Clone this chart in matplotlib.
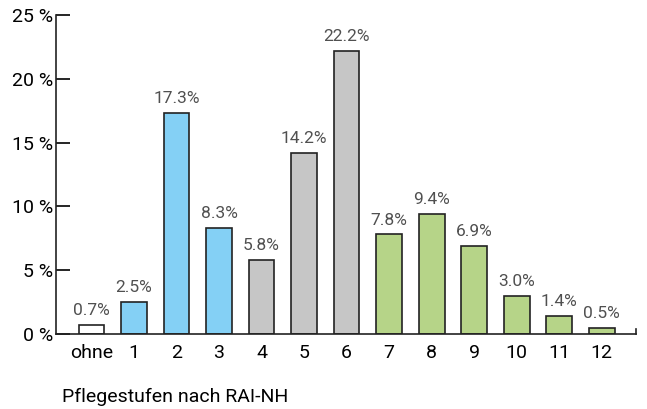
import matplotlib
matplotlib.use("Agg")
import matplotlib.pyplot as plt

# data
categories = ["ohne", "1", "2", "3", "4", "5", "6", "7", "8", "9", "10", "11", "12"]
values = [0.7, 2.5, 17.3, 8.3, 5.8, 14.2, 22.2, 7.8, 9.4, 6.9, 3.0, 1.4, 0.5]
groups = ["none", "blue", "blue", "blue", "gray", "gray", "gray",
          "green", "green", "green", "green", "green", "green"]
yticks = [0, 5, 10, 15, 20, 25]

colors = {"none": "white", "blue": "#84d0f5", "gray": "#c6c6c6", "green": "#b6d488"}

plt.rcParams["font.family"] = ["Roboto", "DejaVu Sans"]

fig = plt.figure(figsize=(6.47, 4.09), dpi=100)
ax = fig.add_axes([56 / 647, 75 / 409, 580 / 647, 319 / 409])

x = list(range(len(categories)))
bars = ax.bar(x, values, width=0.61, color=[colors[g] for g in groups],
              edgecolor="#222222", linewidth=1.2, zorder=2)

for xi, v in zip(x, values):
    ax.annotate(f"{v:.1f}%", (xi, v), xytext=(0, 5), textcoords="offset points",
                ha="center", va="bottom", fontsize=12.5, color="#505050")

ax.set_xlim(-0.835, 12.81)
ax.set_ylim(0, 25)
ax.set_yticks(yticks)
ax.set_yticklabels([f"{t} %" for t in yticks], fontsize=14)
ax.set_xticks(x)
ax.set_xticklabels(categories, fontsize=14)

ax.tick_params(axis="y", direction="in", length=10, width=1.2, pad=2)
ax.tick_params(axis="x", length=0, pad=7)

for s in ["top", "right"]:
    ax.spines[s].set_visible(False)
for s in ["left", "bottom"]:
    ax.spines[s].set_linewidth(1.2)
    ax.spines[s].set_color("#222222")

# small end tick on the x axis
ax.plot([1, 1], [0, 0.016], transform=ax.transAxes, color="#222222",
        linewidth=1.2, clip_on=False)

fig.text(62 / 647, 1 - 397 / 409, "Pflegestufen nach RAI-NH", fontsize=14,
         ha="left", va="center")

fig.savefig("out.png", dpi=100)
